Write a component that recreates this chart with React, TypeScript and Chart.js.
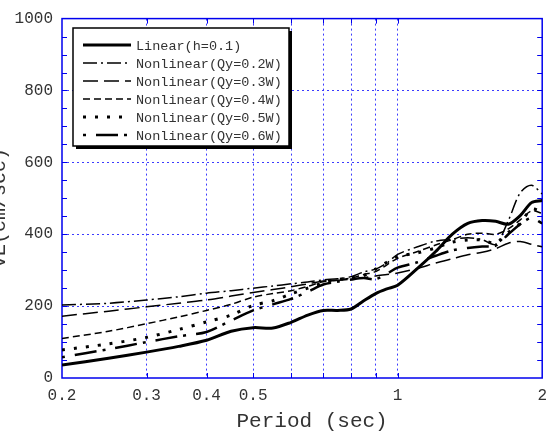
import React, { useEffect, useRef } from "react";
import { Chart, registerables } from "chart.js";

Chart.register(...registerables);

// ---- data ----
const periods = [0.2, 0.25, 0.3, 0.35, 0.4, 0.45, 0.5, 0.55, 0.6, 0.65, 0.7, 0.75, 0.8, 0.85, 0.9, 0.95, 1.0, 1.1, 1.2, 1.3, 1.4, 1.5, 1.6, 1.7, 1.8, 1.9, 2.0];
const linearVE = [36, 55, 72, 88, 105, 130, 140, 139, 155, 175, 188, 188, 192, 215, 235, 248, 258, 305, 352, 400, 430, 438, 436, 428, 452, 488, 494];
const qy02VE = [203, 208, 217, 226, 236, 243, 250, 256, 262, 267, 273, 276, 282, 295, 303, 320, 344, 365, 381, 386, 390, 385, 372, 438, 515, 536, 512];
const qy03VE = [172, 186, 198, 208, 217, 228, 238, 246, 254, 262, 270, 272, 275, 279, 284, 288, 292, 305, 320, 332, 343, 350, 360, 375, 380, 372, 365];
const qy04VE = [110, 130, 151, 170, 188, 205, 225, 235, 243, 255, 268, 272, 278, 288, 296, 315, 333, 352, 370, 385, 400, 403, 400, 415, 440, 465, 458];
const qy05VE = [78, 95, 113, 135, 156, 175, 202, 215, 234, 250, 265, 274, 279, 285, 303, 322, 338, 348, 362, 378, 384, 384, 375, 405, 430, 470, 462];
const qy06VE = [58, 80, 100, 116, 128, 160, 188, 205, 220, 240, 260, 268, 274, 278, 275, 290, 307, 322, 340, 355, 362, 366, 368, 400, 428, 445, 430];

const seriesLabels = [
  "Linear(h=0.1)",
  "Nonlinear(Qy=0.2W)",
  "Nonlinear(Qy=0.3W)",
  "Nonlinear(Qy=0.4W)",
  "Nonlinear(Qy=0.5W)",
  "Nonlinear(Qy=0.6W)",
];
const seriesValues = [linearVE, qy02VE, qy03VE, qy04VE, qy05VE, qy06VE];

const xTickValues = [0.2, 0.3, 0.4, 0.5, 0.6, 0.7, 0.8, 0.9, 1, 2];
const xLabelled = [0.2, 0.3, 0.4, 0.5, 1, 2];
const yTickValues = [0, 200, 400, 600, 800, 1000];
const yMinorStep = 50;

const xTitle = "Period (sec)";
const yTitle = "VE(cm/sec)";

// ---- styles ----
const MONO = '"Liberation Mono", "Courier New", monospace';
const BLUE = "#0000ee";
const GRID = "#3b3bff";
const TEXT = "#333";
const lineStyles = [
  { width: 3, dash: [] as number[] },
  { width: 1.5, dash: [14, 4, 2, 4] },
  { width: 1.5, dash: [15, 6] },
  { width: 1.5, dash: [7, 4] },
  { width: 3, dash: [3, 9] },
  { width: 2.5, dash: [3, 10, 22, 6] },
];

const decor = {
  id: "decor",
  beforeDatasetsDraw(chart: any) {
    const { ctx, chartArea: a, scales } = chart;
    ctx.save();
    ctx.setLineDash([]);
    ctx.strokeStyle = BLUE;
    ctx.lineWidth = 1;
    ctx.beginPath();
    for (let v = yMinorStep; v < 1000; v += yMinorStep) {
      const y = Math.round(scales.y.getPixelForValue(v)) + 0.5;
      ctx.moveTo(a.left, y);
      ctx.lineTo(a.left + 5, y);
      ctx.moveTo(a.right, y);
      ctx.lineTo(a.right - 5, y);
    }
    for (const v of xTickValues.slice(1, -1)) {
      const x = Math.round(scales.x.getPixelForValue(v)) + 0.5;
      ctx.moveTo(x, a.bottom);
      ctx.lineTo(x, a.bottom - 5);
      ctx.moveTo(x, a.top);
      ctx.lineTo(x, a.top + 5);
    }
    ctx.stroke();
    ctx.lineWidth = 1.5;
    ctx.strokeRect(a.left, a.top, a.right - a.left, a.bottom - a.top);
    ctx.restore();
  },
  afterDraw(chart: any) {
    const { ctx, chartArea: a } = chart;
    ctx.save();
    // legend box
    const bx = 73, by = 28, bw = 216, bh = 118;
    ctx.fillStyle = "#000";
    ctx.fillRect(bx + 3, by + 3, bw, bh);
    ctx.fillStyle = "#fff";
    ctx.fillRect(bx, by, bw, bh);
    ctx.strokeStyle = "#000";
    ctx.lineWidth = 1.5;
    ctx.setLineDash([]);
    ctx.strokeRect(bx, by, bw, bh);
    ctx.font = `13.5px ${MONO}`;
    ctx.textBaseline = "middle";
    ctx.textAlign = "left";
    seriesLabels.forEach((lab, i) => {
      const y = 45 + i * 18;
      const st = lineStyles[i];
      ctx.strokeStyle = "#000";
      ctx.lineWidth = st.width;
      ctx.setLineDash(st.dash);
      ctx.beginPath();
      ctx.moveTo(83, y);
      ctx.lineTo(131, y);
      ctx.stroke();
      ctx.setLineDash([]);
      ctx.fillStyle = TEXT;
      ctx.fillText(lab, 136, y + 1);
    });
    // axis titles
    ctx.fillStyle = TEXT;
    ctx.font = `21px ${MONO}`;
    ctx.textAlign = "center";
    ctx.textBaseline = "middle";
    ctx.fillText(xTitle, (a.left + a.right) / 2 + 10, 421);
    ctx.font = `20px ${MONO}`;
    ctx.translate(0, 208);
    ctx.rotate(-Math.PI / 2);
    ctx.fillText(yTitle, 0, 0);
    ctx.restore();
  },
};

export default function App() {
  const ref = useRef<HTMLCanvasElement>(null);
  useEffect(() => {
    if (!ref.current) return;
    const chart = new Chart(ref.current, {
      type: "line",
      data: {
        datasets: seriesLabels.map((label, i) => ({
          label,
          data: periods.map((p, j) => ({ x: p, y: seriesValues[i][j] })),
          borderColor: "#000",
          borderWidth: lineStyles[i].width,
          borderDash: lineStyles[i].dash,
          pointRadius: 0,
          tension: 0.3,
          fill: false,
        })),
      },
      options: {
        responsive: false,
        animation: false,
        layout: { padding: { left: 0, right: 8, top: 16, bottom: 0 } },
        plugins: { legend: { display: false }, tooltip: { enabled: false } },
        scales: {
          x: {
            type: "logarithmic",
            min: 0.2,
            max: 2,
            afterBuildTicks: (s: any) => {
              s.ticks = xTickValues.map((v) => ({ value: v }));
            },
            afterFit: (s: any) => {
              s.height = 61;
            },
            ticks: {
              autoSkip: false,
              maxRotation: 0,
              padding: 8,
              color: TEXT,
              font: { family: MONO, size: 16 },
              callback: (v: any) => (xLabelled.includes(Number(v)) ? String(v) : ""),
            },
            grid: {
              drawTicks: false,
              color: (c: any) => (c.tick && (c.tick.value === 0.2 || c.tick.value === 2) ? "rgba(0,0,0,0)" : GRID),
              lineWidth: 1,
            },
            border: { display: false, dash: [2, 3] },
          },
          y: {
            type: "linear",
            min: 0,
            max: 1000,
            afterBuildTicks: (s: any) => {
              s.ticks = yTickValues.map((v) => ({ value: v }));
            },
            afterFit: (s: any) => {
              s.width = 62;
            },
            ticks: {
              padding: 9,
              color: TEXT,
              font: { family: MONO, size: 16 },
              callback: (v: any) => String(v),
            },
            grid: {
              drawTicks: false,
              color: (c: any) => (c.tick && (c.tick.value === 0 || c.tick.value === 1000) ? "rgba(0,0,0,0)" : GRID),
              lineWidth: 1,
            },
            border: { display: false, dash: [2, 3] },
          },
        },
      },
      plugins: [decor],
    });
    return () => chart.destroy();
  }, []);
  return (
    <div style={{ position: "fixed", left: 0, top: 0, width: 555, height: 439, background: "#fff" }}>
      <canvas ref={ref} width={555} height={439} style={{ display: "block" }} />
    </div>
  );
}
